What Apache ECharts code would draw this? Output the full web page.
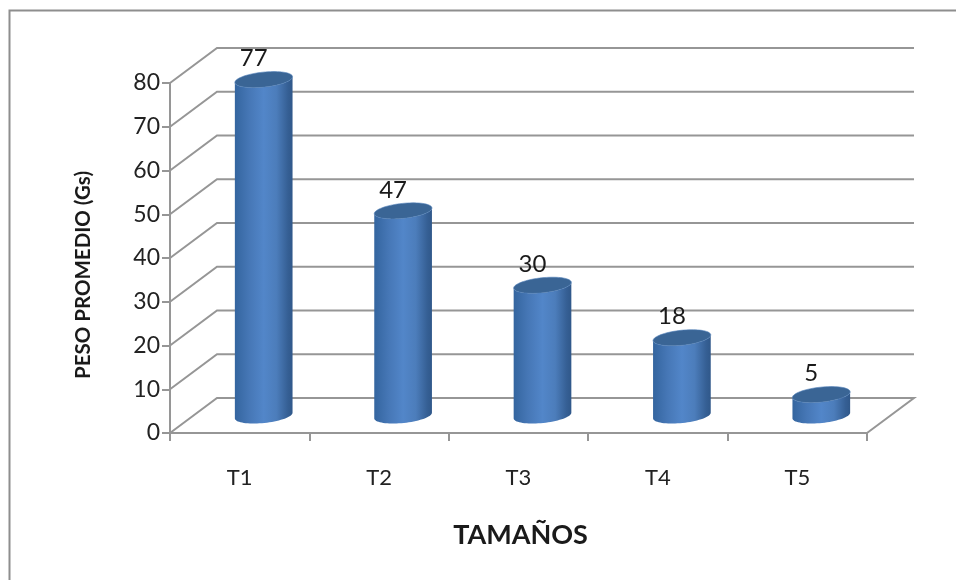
<!DOCTYPE html>
<html><head><meta charset="utf-8">
<style>html,body{margin:0;padding:0;background:#fff}#c{width:956px;height:580px}</style>
<script src="https://cdn.jsdelivr.net/npm/echarts@6/dist/echarts.min.js"></script>
</head><body><div id="c"></div>
<script>
const categories = ['T1','T2','T3','T4','T5'];
const weights = [77,47,30,18,5];
const gridValues = [0,10,20,30,40,50,60,70,80];
const FONT = 'Lato';
const GRAY = '#969696';
const DEPTH_X = 47, DEPTH_Y = -35;
const RX = 29, RY = 7.5, TILT = -6 * Math.PI / 180;

function ellipsePt(cx, cy, t) {
  const x = RX * Math.cos(t), y = RY * Math.sin(t);
  return [cx + x * Math.cos(TILT) - y * Math.sin(TILT), cy + x * Math.sin(TILT) + y * Math.cos(TILT)];
}
function arc(cx, cy, from, to, n) {
  const pts = [];
  for (let i = 0; i <= n; i++) pts.push(ellipsePt(cx, cy, from + (to - from) * i / n));
  return pts;
}
function renderWall(params, api) {
  const p = api.coord([0, api.value(1)]);
  const cs = params.coordSys;
  const x0 = cs.x, y = p[1];
  const children = [];
  if (api.value(1) === 0) {
    children.push({type:'polyline', shape:{points:[[x0+cs.width,y],[x0+cs.width+DEPTH_X,y+DEPTH_Y],[x0+DEPTH_X,y+DEPTH_Y],[x0,y]]},
      style:{fill:null,stroke:GRAY,lineWidth:2}});
  } else {
    children.push({type:'polyline', shape:{points:[[x0,y],[x0+DEPTH_X,y+DEPTH_Y],[x0+cs.width+DEPTH_X,y+DEPTH_Y]]},
      style:{fill:null,stroke:GRAY,lineWidth:2}});
  }
  return {type:'group', children};
}
function renderCylinder(params, api) {
  const i = api.value(0), v = api.value(1);
  const base = api.coord([i, 0]), top = api.coord([i, v]);
  const cx = base[0] + DEPTH_X / 2 + 0.5;
  const by = base[1] + DEPTH_Y / 2, ty = top[1] + DEPTH_Y / 2 + 1;
  const lower = arc(cx, by, 0, Math.PI, 36);
  const topBack = arc(cx, ty, Math.PI, 0, 36);
  const body = lower.concat(topBack);
  const topEll = arc(cx, ty, 0, Math.PI * 2, 72);
  return {type:'group', children:[
    {type:'polygon', shape:{points:body}, style:{
      fill:new echarts.graphic.LinearGradient(0,0,1,0,[
        {offset:0,color:'#34659f'},{offset:0.25,color:'#4677b6'},{offset:0.5,color:'#5286c9'},
        {offset:0.72,color:'#4c7dbb'},{offset:0.92,color:'#355f94'},{offset:1,color:'#30588a'}])}},
    {type:'polygon', shape:{points:topEll}, style:{fill:'#3a6595', stroke:'#5282ba', lineWidth:0.6}},
    {type:'text', style:{text:String(v), x:cx-10, y:ty-21, align:'center', verticalAlign:'middle',
      font:'24px '+FONT, fill:'#1a1a1a'}}
  ]};
}
const chart = echarts.init(document.getElementById('c'), null, {renderer:'canvas'});
chart.setOption({
  animation:false,
  backgroundColor:'#fff',
  graphic:[{type:'rect', z:-1, shape:{x:9.5,y:10.5,width:1000,height:640}, style:{fill:'#fff',stroke:'#8e8e8e',lineWidth:2}}],
  grid:{left:170,right:89,top:83,bottom:147,containLabel:false},
  xAxis:{type:'category',data:categories,name:'TAMAÑOS',nameLocation:'middle',nameGap:89,
    nameTextStyle:{fontFamily:FONT,fontWeight:'bold',fontSize:27,color:'#1a1a1a',padding:[0,0,0,4]},
    axisLine:{lineStyle:{color:GRAY,width:2}},
    axisTick:{show:true,alignWithLabel:false,length:8,lineStyle:{color:GRAY,width:2}},
    axisLabel:{fontFamily:FONT,fontSize:22,color:'#222',margin:34},splitLine:{show:false}},
  yAxis:{type:'value',min:0,max:80,interval:10,name:'PESO PROMEDIO (Gs)',nameLocation:'middle',nameGap:76,
    nameTextStyle:{fontFamily:FONT,fontWeight:'bold',fontSize:20.5,color:'#1a1a1a',padding:[0,34,0,0]},
    axisLine:{show:true,lineStyle:{color:GRAY,width:2}},
    axisTick:{show:true,length:8,lineStyle:{color:GRAY,width:2}},
    axisLabel:{fontFamily:FONT,fontSize:23,color:'#222',margin:10,padding:[9,0,0,0]},splitLine:{show:false}},
  series:[
    {type:'custom',renderItem:renderWall,data:gridValues.map(v=>[0,v]),encode:{x:0,y:1},silent:true,z:1,clip:false},
    {type:'custom',renderItem:renderCylinder,data:weights.map((v,i)=>[i,v]),encode:{x:0,y:1},z:3,clip:false}
  ]
});
</script></body></html>
